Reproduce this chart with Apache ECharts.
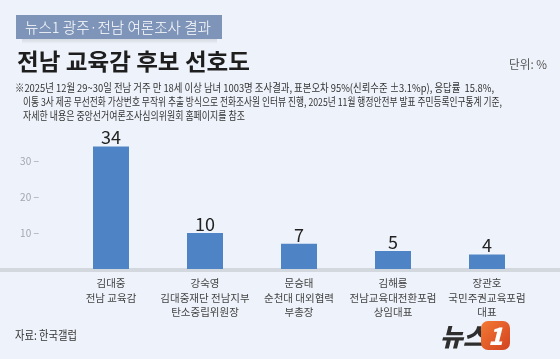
<!DOCTYPE html>
<html><head><meta charset="utf-8">
<script src="https://cdn.jsdelivr.net/npm/echarts@6/dist/echarts.min.js"></script>
<style>html,body{margin:0;padding:0;background:#eef2fa}#c{width:560px;height:359px}</style>
</head><body><div id="c"></div>
<script>
const categories = ['김대중\n전남 교육감', '강숙영\n김대중재단 전남지부\n탄소중립위원장', '문승태\n순천대 대외협력\n부총장', '김해룡\n전남교육대전환포럼\n상임대표', '장관호\n국민주권교육포럼\n대표'];
const values = [34, 10, 7, 5, 4];
const yTickLabels = [10, 20, 30];
const kicker = '뉴스1 광주·전남 여론조사 결과';
const title = '전남 교육감 후보 선호도';
const unit = '단위: %';
const noteLines = [
  '※2025년 12월 29~30일 전남 거주 만 18세 이상 남녀 1003명 조사결과, 표본오차 95%(신뢰수준 ±3.1%p), 응답률  15.8%,',
  '이통 3사 제공 무선전화 가상번호 무작위 추출 방식으로 전화조사원 인터뷰 진행, 2025년 11월 행정안전부 발표 주민등록인구통계 기준,',
  '자세한 내용은 중앙선거여론조사심의위원회 홈페이지를 참조'
];
const source = '자료: 한국갤럽';

const FF = '"Noto Sans CJK KR", "Noto Sans", sans-serif';
const mctx = document.createElement('canvas').getContext('2d');
function fitText(text, font, left, y, targetW, fill) {
  mctx.font = font;
  const w = mctx.measureText(text).width;
  return {type: 'text', x: left, y: y, scaleX: targetW / w, z: 10, silent: true,
    style: {text: text, x: 0, y: 0, font: font, fill: fill, textAlign: 'left', textVerticalAlign: 'middle', verticalAlign: 'middle'}};
}

const chart = echarts.init(document.getElementById('c'), null, {renderer: 'canvas'});
chart.setOption({
  backgroundColor: '#eef2fa',
  animation: false,
  grid: {left: 64, right: 26, top: 125, bottom: 90},
  xAxis: {
    type: 'category', data: categories,
    axisLine: {show: false}, axisTick: {show: false},
    axisLabel: {interval: 0, margin: 7, fontSize: 10.5, lineHeight: 14.5, color: '#444', fontFamily: FF}
  },
  yAxis: {
    type: 'value', min: 0, max: 40, interval: 10,
    splitLine: {show: false}, axisLine: {show: false}, axisTick: {show: false},
    axisLabel: {margin: 25, fontSize: 10, color: '#a3a7ae', fontFamily: FF,
      formatter: function (v) {
        return yTickLabels.indexOf(Math.round(v)) >= 0 ? '{v|' + Math.round(v) + ' −}' : '{h|' + Math.round(v) + ' −}';
      },
      rich: {
        v: {fontSize: 10, color: '#a3a7ae', fontFamily: FF},
        h: {fontSize: 10, color: 'rgba(0,0,0,0)', fontFamily: FF}
      }}
  },
  series: [{
    type: 'bar', data: values, barWidth: 36, z: 5,
    itemStyle: {color: '#4e84c5'},
    label: {show: true, position: 'top', distance: 0, fontSize: 18, color: '#222', fontFamily: FF}
  }],
  graphic: [
    {type: 'rect', shape: {x: 0, y: 268, width: 560, height: 4}, style: {fill: '#d3d7de'}, z: 1, silent: true},
    {type: 'rect', shape: {x: 22, y: 38, width: 195, height: 6}, z: 1, silent: true,
      style: {fill: new echarts.graphic.LinearGradient(0, 0, 0, 1, [{offset: 0, color: 'rgba(0,0,0,0.13)'}, {offset: 1, color: 'rgba(0,0,0,0)'}])}},
    {type: 'rect', shape: {x: 16, y: 15, width: 206, height: 24}, style: {fill: '#7e95b9'}, z: 2, silent: true},
    fitText(kicker, '300 15px ' + FF, 25, 27.5, 186, '#ffffff'),
    fitText(title, 'bold 23px ' + FF, 17, 61.5, 233, '#1e1e1e'),
    fitText(unit, '12px ' + FF, 509, 64, 38, '#555'),
    fitText(noteLines[0], '11px ' + FF, 15, 87.5, 479, '#333'),
    fitText(noteLines[1], '11px ' + FF, 23, 101.5, 479, '#333'),
    fitText(noteLines[2], '11px ' + FF, 23, 115.5, 222, '#333'),
    fitText(source, '12px ' + FF, 15, 335, 62, '#333'),
    {type: 'text', x: 440, y: 336, z: 10, silent: true, style: {text: '뉴스', x: 0, y: 0, font: 'italic 900 25px ' + FF, fill: '#2e2e2e', textVerticalAlign: 'middle', verticalAlign: 'middle'}},
    {type: 'rect', shape: {x: 481, y: 321, width: 29, height: 29, r: 7}, z: 10, silent: true,
      style: {fill: new echarts.graphic.LinearGradient(0, 0, 1, 1, [{offset: 0, color: '#f47a35'}, {offset: 1, color: '#d2421f'}])}},
    {type: 'text', x: 495.5, y: 336, z: 11, silent: true, style: {text: '1', x: 0, y: 0, font: 'italic 900 24px ' + FF, fill: '#ffffff', textAlign: 'center', textVerticalAlign: 'middle', verticalAlign: 'middle'}}
  ]
});
</script></body></html>
